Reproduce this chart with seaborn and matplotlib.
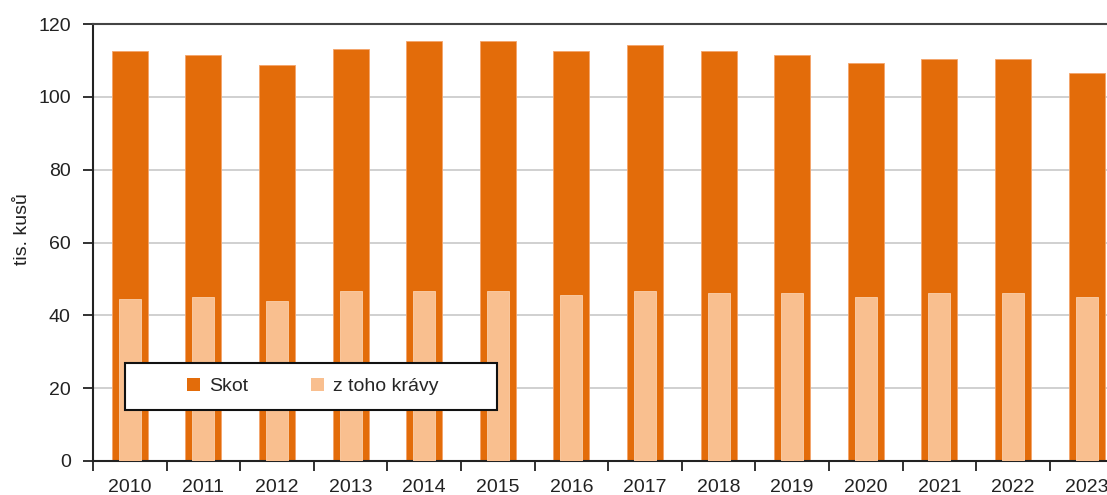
import matplotlib
matplotlib.use("Agg")
import matplotlib.pyplot as plt
from matplotlib.patches import Patch, Rectangle
from matplotlib.ticker import FixedLocator
import seaborn as sns
import pandas as pd

years = ["2010", "2011", "2012", "2013", "2014", "2015", "2016",
         "2017", "2018", "2019", "2020", "2021", "2022", "2023"]
skot = [112.6, 111.5, 108.7, 113.1, 115.3, 115.3, 112.6,
        114.2, 112.6, 111.5, 109.3, 110.3, 110.3, 106.5]
kravy = [44.5, 45.0, 43.9, 46.7, 46.7, 46.7, 45.6,
         46.7, 46.1, 46.1, 45.0, 46.0, 46.0, 44.9]
series_names = ["Skot", "z toho krávy"]
ylabel = "tis. kusů"

c_dark = "#E36C0A"
c_light = "#F9BF8F"
txt = "#222222"
fs = 14

sns.set_theme(style="white")
plt.rcParams["font.family"] = ["Liberation Sans", "DejaVu Sans"]

df = pd.DataFrame({"rok": years, "skot": skot, "kravy": kravy})

fig = plt.figure(figsize=(11.07, 4.95), dpi=100)
ax = fig.add_axes([0.084, 0.0687, 0.9308, 0.8828])

sns.barplot(data=df, x="rok", y="skot", color=c_dark, width=0.49,
            saturation=1, edgecolor="#F4A46A", linewidth=0.6, ax=ax, zorder=2)
sns.barplot(data=df, x="rok", y="kravy", color=c_light, width=0.30,
            saturation=1, edgecolor="#FBD0AC", linewidth=0.6, ax=ax, zorder=3)

ax.set_xlim(-0.5, len(years) - 0.5)
ax.set_ylim(0, 120)
ax.set_yticks(range(0, 121, 20))
ax.yaxis.grid(True, color="#C8C8C8", linewidth=1.2, zorder=0)
ax.xaxis.grid(False)
ax.set_axisbelow(True)

ax.xaxis.set_minor_locator(FixedLocator([i - 0.5 for i in range(len(years) + 1)]))
ax.tick_params(axis="x", which="major", bottom=False, length=0, pad=13,
               labelsize=fs, labelcolor=txt)
ax.tick_params(axis="x", which="minor", bottom=True, length=7, width=1.3,
               color=txt, direction="out")
ax.tick_params(axis="y", which="major", left=True, length=7, width=1.3, color=txt,
               direction="out", labelsize=fs, labelcolor=txt, pad=9)

ax.set_xlabel("")
ax.set_ylabel(ylabel, fontsize=fs, color=txt)
ax.yaxis.set_label_coords(-0.060, 0.53)

for side in ["left", "bottom", "top"]:
    ax.spines[side].set_visible(True)
    ax.spines[side].set_color(txt)
    ax.spines[side].set_linewidth(1.5)
ax.spines["top"].set_color("#444444")
ax.spines["right"].set_visible(False)

# legend box
box = Rectangle((0.031, 0.117), 0.361, 0.1075, transform=ax.transAxes,
                facecolor="white", edgecolor="#111111", linewidth=1.5, zorder=6)
ax.add_patch(box)

handles = [Patch(facecolor=c_dark, edgecolor="none"),
           Patch(facecolor=c_light, edgecolor="none")]
leg = ax.legend(handles, series_names, loc="center",
                bbox_to_anchor=(0.2135, 0.1705), ncol=2, frameon=False,
                fontsize=fs, handlelength=0.65, handleheight=0.65,
                handletextpad=0.5, columnspacing=3.2, borderaxespad=0)
leg.set_zorder(7)

fig.savefig("out.png", dpi=100)
